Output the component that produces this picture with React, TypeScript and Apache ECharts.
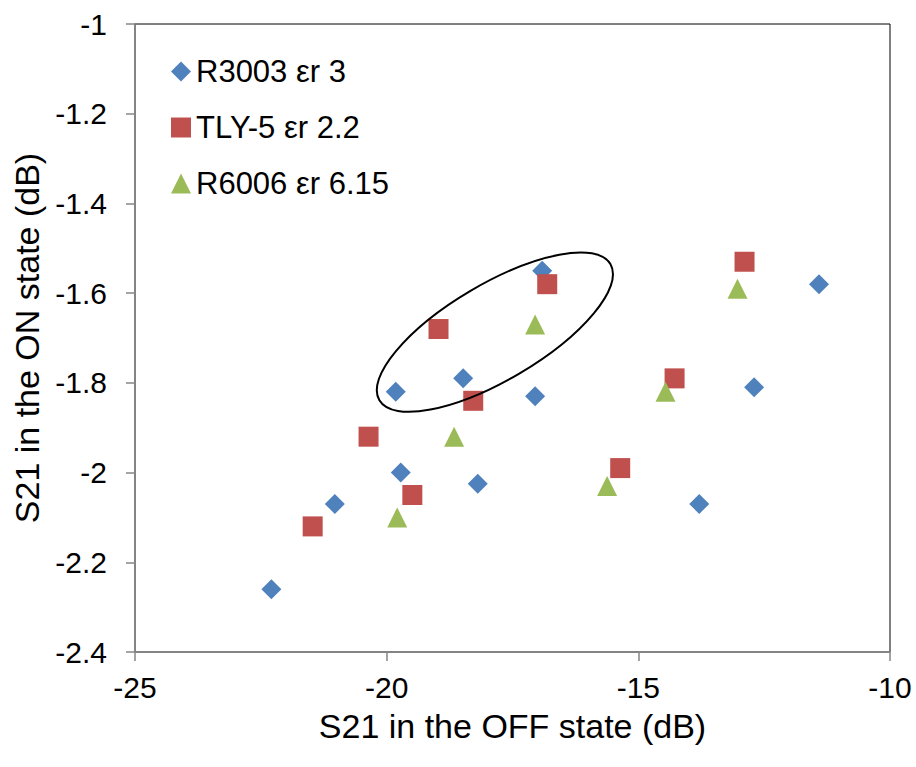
import React, { useEffect, useRef } from "react";
import * as echarts from "echarts";

const r3003X = [-22.29, -21.03, -19.82, -19.72, -18.48, -18.19, -17.05, -16.91, -13.79, -12.7, -11.41];
const r3003Y = [-2.26, -2.07, -1.82, -2.0, -1.79, -2.025, -1.83, -1.55, -2.07, -1.81, -1.58];

const tlyX = [-21.47, -20.36, -19.49, -18.97, -18.28, -16.81, -15.36, -14.28, -12.89];
const tlyY = [-2.12, -1.92, -2.05, -1.68, -1.84, -1.58, -1.99, -1.79, -1.53];

const r6006X = [-19.79, -18.66, -17.05, -15.62, -14.46, -13.03];
const r6006Y = [-2.1, -1.92, -1.67, -2.03, -1.82, -1.59];

const seriesNames = ["R3003 εr 3", "TLY-5 εr 2.2", "R6006 εr 6.15"];
const ellipseCenter = [-17.85, -1.687];

const FONT = "Liberation Sans, Arial, sans-serif";

const zip = (xs: number[], ys: number[]) => xs.map((x, i) => [x, ys[i]]);

export default function App() {
  const ref = useRef<HTMLDivElement>(null);
  useEffect(() => {
    if (!ref.current) return;
    const chart = echarts.init(ref.current, undefined, { renderer: "svg" });
    const axisLine = { show: true, lineStyle: { color: "#868686", width: 1.5 } };
    chart.setOption({
      animation: false,
      backgroundColor: "#fff",
      textStyle: { fontFamily: FONT },
      grid: {
        left: 135,
        right: 26,
        top: 24,
        bottom: 115,
        show: true,
        borderColor: "#000",
        borderWidth: 1,
        outerBoundsMode: "none",
        containLabel: false,
      },
      legend: {
        orient: "vertical",
        left: 166,
        top: 51,
        itemWidth: 20,
        itemHeight: 20,
        itemGap: 25,
        textStyle: { fontSize: 31, color: "#000", fontFamily: FONT },
        data: seriesNames,
      },
      xAxis: {
        type: "value",
        min: -25,
        max: -10,
        interval: 5,
        name: "S21 in the OFF state (dB)",
        nameLocation: "middle",
        nameGap: 57,
        nameTextStyle: { fontSize: 34, color: "#000", fontFamily: FONT, verticalAlign: "top" },
        axisLine,
        axisTick: { show: true, inside: false, length: 9, lineStyle: { color: "#868686", width: 1.5 } },
        axisLabel: { fontSize: 30, color: "#000", margin: 20, fontFamily: FONT },
        splitLine: { show: false },
      },
      yAxis: {
        type: "value",
        min: -2.4,
        max: -1,
        interval: 0.2,
        name: "S21 in the ON state (dB)",
        nameLocation: "middle",
        nameGap: 91,
        nameRotate: 90,
        nameTextStyle: { fontSize: 34, color: "#000", fontFamily: FONT },
        axisLine,
        axisTick: { show: true, inside: false, length: 9, lineStyle: { color: "#868686", width: 1.5 } },
        axisLabel: { fontSize: 30, color: "#000", margin: 28, fontFamily: FONT },
        splitLine: { show: false },
      },
      series: [
        {
          name: seriesNames[0],
          type: "scatter",
          symbol: "diamond",
          symbolSize: 20,
          itemStyle: { color: "#4F81BD", opacity: 1 },
          data: zip(r3003X, r3003Y),
          z: 3,
        },
        {
          name: seriesNames[1],
          type: "scatter",
          symbol: "rect",
          symbolSize: 20,
          itemStyle: { color: "#C0504D", opacity: 1 },
          data: zip(tlyX, tlyY),
          z: 4,
        },
        {
          name: seriesNames[2],
          type: "scatter",
          symbol: "triangle",
          symbolSize: 20,
          itemStyle: { color: "#9BBB59", opacity: 1 },
          data: zip(r6006X, r6006Y),
          z: 5,
        },
      ],
    });
    const c = chart.convertToPixel({ gridIndex: 0 }, ellipseCenter) as number[];
    chart.setOption({
      graphic: [
        {
          type: "ellipse",
          x: c[0],
          y: c[1],
          rotation: (30.5 * Math.PI) / 180,
          shape: { cx: 0, cy: 0, rx: 134, ry: 48 },
          style: { fill: "none", stroke: "#000", lineWidth: 2 },
          z: 10,
        },
      ],
    });
    return () => chart.dispose();
  }, []);
  return (
    <div
      ref={ref}
      style={{ position: "fixed", left: 0, top: 0, width: 916, height: 767, background: "#fff" }}
    />
  );
}
